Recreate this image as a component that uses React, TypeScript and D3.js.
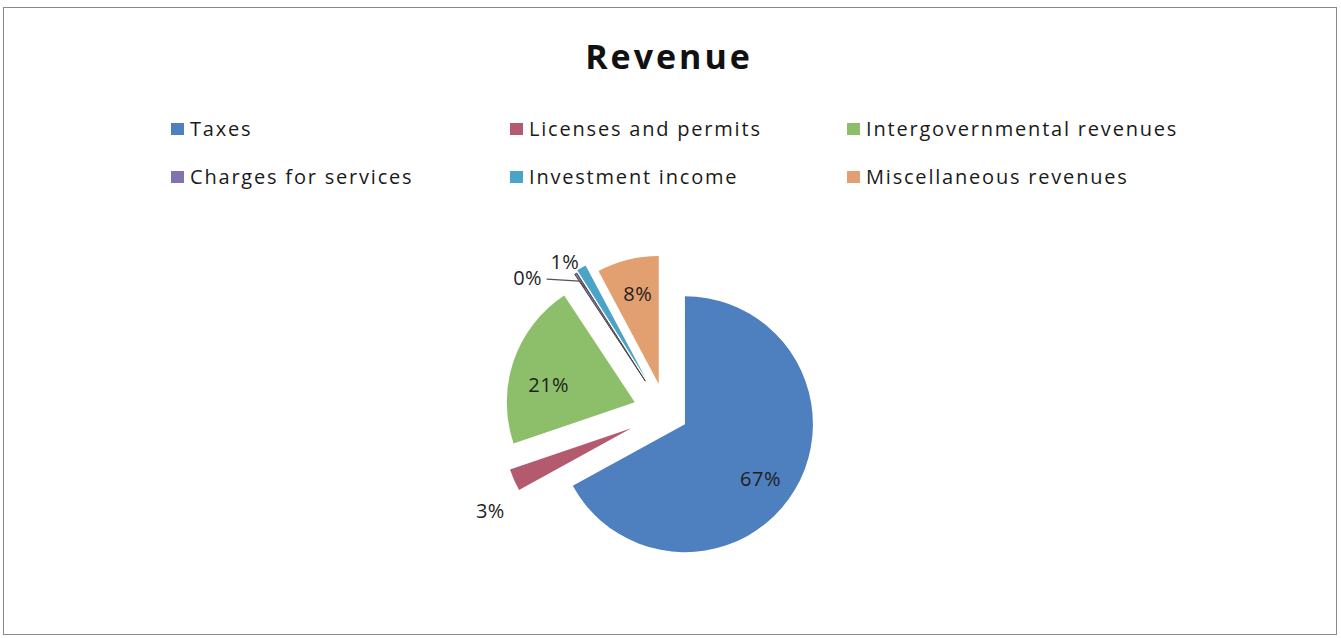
import React from "react";
import * as d3 from "d3";

const CATEGORIES = [
  "Taxes",
  "Licenses and permits",
  "Intergovernmental revenues",
  "Charges for services",
  "Investment income",
  "Miscellaneous revenues",
];
const VALUES = [67.0, 2.8, 20.9, 0.3, 1.2, 7.8];
const COLORS = ["#4E7FBF", "#B45A6E", "#8DBE6A", "#7F73B0", "#4BA3C8", "#E2A070"];

// styling / layout (not data)
const EXPLODE = [22, 38, 33, 38, 40, 30];
const LABEL_DIST = [93, 163, 88, 157, 142, 93];
const LABEL_SHIFT_DEG = [5, -6.5, -7, -15.6, -4.5, 1];

const W = 1341;
const H = 638;
const CX = 666;
const CY = 413;
const R = 128;
const FONT = "'Open Sans', Lato, sans-serif";

const LEGEND_COLS = [171, 510, 847];
const LEGEND_ROWS = [129, 177];

export default function App() {
  const total = d3.sum(VALUES);
  const pie = d3
    .pie<number>()
    .sort(null)
    .value((d) => d)
    .startAngle(0)
    .endAngle(2 * Math.PI);
  const arcs = pie(VALUES);
  const arc = d3.arc<d3.PieArcDatum<number>>().innerRadius(0).outerRadius(R);
  const fmt = d3.format(".0%");
  const polar = (a: number, r: number): [number, number] => [Math.sin(a) * r, -Math.cos(a) * r];

  const slices = arcs.map((a, i) => {
    const mid = (a.startAngle + a.endAngle) / 2;
    const [ox, oy] = polar(mid, EXPLODE[i]);
    const apex: [number, number] = [CX + ox, CY + oy];
    const [lx, ly] = polar(mid + (LABEL_SHIFT_DEG[i] * Math.PI) / 180, LABEL_DIST[i]);
    return { a, i, mid, apex, label: [apex[0] + lx, apex[1] + ly] as [number, number] };
  });

  const charges = slices[3];
  const [ex, ey] = polar(charges.mid, R * 0.86);
  const leaderEnd: [number, number] = [charges.apex[0] + ex, charges.apex[1] + ey];
  const leaderStart: [number, number] = [charges.label[0] + 19, charges.label[1] + 2];
  const leader = d3.line()([
    leaderStart,
    [leaderEnd[0] - 6, leaderStart[1] + 2],
    leaderEnd,
  ]);

  return (
    <svg
      width={W}
      height={H}
      style={{ position: "absolute", left: 0, top: 0, background: "#fff" }}
    >
      <rect x={3.5} y={7.5} width={1333} height={627} fill="#fff" stroke="#8a8a8a" strokeWidth={1} />
      <text
        x={669}
        y={69}
        textAnchor="middle"
        fontFamily={FONT}
        fontWeight="bold"
        fontSize={34}
        letterSpacing={3}
        fill="#111"
      >
        Revenue
      </text>

      {CATEGORIES.map((c, i) => {
        const col = i % 3;
        const row = Math.floor(i / 3);
        const x = LEGEND_COLS[col];
        const y = LEGEND_ROWS[row];
        return (
          <g key={c}>
            <rect x={x} y={y - 6} width={13} height={12} fill={COLORS[i]} />
            <text
              x={x + 19}
              y={y + 7}
              fontFamily={FONT}
              fontSize={20}
              letterSpacing={1.8}
              fill="#1a1a1a"
            >
              {c}
            </text>
          </g>
        );
      })}

      {slices.map((s) => (
        <path
          key={s.i}
          d={arc(s.a) || ""}
          transform={`translate(${s.apex[0]},${s.apex[1]})`}
          fill={COLORS[s.i]}
          stroke={s.i === 3 ? "#444" : "none"}
          strokeWidth={s.i === 3 ? 1 : 0}
        />
      ))}

      <path d={leader || ""} fill="none" stroke="#555" strokeWidth={1.2} />

      {slices.map((s) => (
        <text
          key={"l" + s.i}
          x={s.label[0]}
          y={s.label[1]}
          textAnchor="middle"
          dominantBaseline="central"
          fontFamily={FONT}
          fontSize={20}
          letterSpacing={0.5}
          fill="#1e1e1e"
        >
          {fmt(VALUES[s.i] / total)}
        </text>
      ))}
    </svg>
  );
}
